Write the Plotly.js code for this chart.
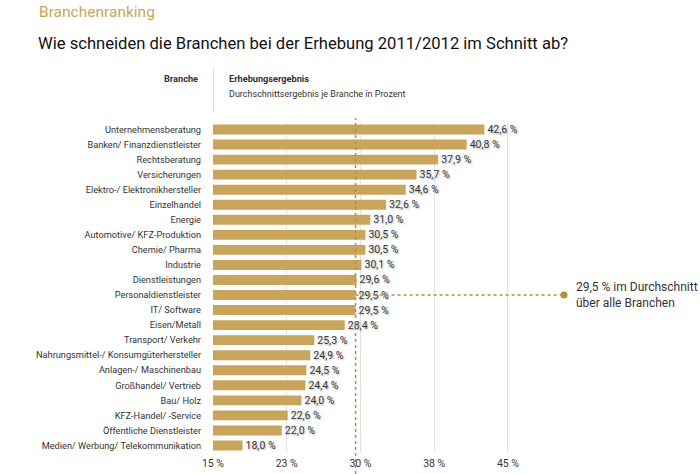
<!DOCTYPE html>
<html>
<head>
<meta charset="utf-8">
<script src="https://cdn.plot.ly/plotly-3.0.1.min.js"></script>
<style>
  html, body { margin: 0; padding: 0; background: #fff; }
  #chart { width: 700px; height: 474px; }
</style>
</head>
<body>
<div id="chart"></div>
<script>
// Branchen, sortiert nach Erhebungsergebnis (oben = höchster Wert)
const branchen = [
  "Unternehmensberatung",
  "Banken/ Finanzdienstleister",
  "Rechtsberatung",
  "Versicherungen",
  "Elektro-/ Elektronikhersteller",
  "Einzelhandel",
  "Energie",
  "Automotive/ KFZ-Produktion",
  "Chemie/ Pharma",
  "Industrie",
  "Dienstleistungen",
  "Personaldienstleister",
  "IT/ Software",
  "Eisen/Metall",
  "Transport/ Verkehr",
  "Nahrungsmittel-/ Konsumgüterhersteller",
  "Anlagen-/ Maschinenbau",
  "Großhandel/ Vertrieb",
  "Bau/ Holz",
  "KFZ-Handel/ -Service",
  "Öffentliche Dienstleister",
  "Medien/ Werbung/ Telekommunikation"
];
const ergebnis = [42.6, 40.8, 37.9, 35.7, 34.6, 32.6, 31.0, 30.5, 30.5, 30.1,
                  29.6, 29.5, 29.5, 28.4, 25.3, 24.9, 24.5, 24.4, 24.0, 22.6, 22.0, 18.0];

// Durchschnitt über alle Branchen
const durchschnitt = 29.5;
const durchschnittBranche = "Personaldienstleister";

// Achsenbeschriftung
const tickWerte = [15, 22.5, 30, 37.5, 45];
const tickTexte = ["15 %", "23 %", "30 %", "38 %", "45 %"];

const GOLD = "#c8a55b";
const GOLD_DARK = "#b48f45";
const TEXT = "#333333";
const FONT = "Roboto, sans-serif";

const bars = {
  type: "bar",
  orientation: "h",
  x: ergebnis,
  y: branchen,
  width: 0.66,
  marker: { color: GOLD, line: { width: 0 } },
  texttemplate: "%{x:.1f} %",
  textposition: "outside",
  constraintext: "none",
  cliponaxis: false,
  textfont: { family: FONT, size: 10.5, color: "#3a3a3a", shadow: "1px 1px 2px rgba(0,0,0,0.35)" },
  hoverinfo: "skip"
};

// Marker am Ende der Durchschnittslinie
const punkt = {
  type: "scatter",
  mode: "markers",
  x: [50.7],
  y: [durchschnittBranche],
  marker: { color: GOLD_DARK, size: 7 },
  cliponaxis: false,
  hoverinfo: "skip"
};

const H = 331; // Höhe der Zeichenfläche in px
const W = 487; // Breite der Zeichenfläche in px
const B = 21;  // unterer Rand in px
const py = (top) => (474 - B - top) / H;
const px = (left) => (left - 213) / W;

const layout = {
  width: 700,
  height: 474,
  margin: { l: 213, r: 0, t: 122, b: B },
  paper_bgcolor: "#ffffff",
  plot_bgcolor: "#ffffff",
  showlegend: false,
  separators: ", ",
  bargap: 0.34,
  font: { family: FONT, color: TEXT },
  xaxis: {
    range: [15, 64.53],
    tickvals: tickWerte,
    ticktext: tickTexte,
    showgrid: true,
    gridcolor: "#e3e3e3",
    gridwidth: 1,
    zeroline: false,
    showline: false,
    ticks: "",
    ticklabelstandoff: 2,
    tickfont: { family: FONT, size: 10.5, color: TEXT },
    fixedrange: true
  },
  yaxis: {
    type: "category",
    categoryorder: "array",
    categoryarray: branchen,
    autorange: "reversed",
    showgrid: false,
    zeroline: false,
    showline: false,
    ticks: "",
    ticklabelstandoff: 11,
    tickfont: { family: FONT, size: 9.2, color: TEXT },
    fixedrange: true
  },
  shapes: [
    // Trennlinie im Tabellenkopf
    { type: "line", xref: "x", yref: "paper", x0: 15, x1: 15, y0: py(112), y1: py(68),
      line: { color: "#bdbdbd", width: 1 } },
    // senkrechte Durchschnittslinie
    { type: "line", xref: "x", yref: "paper", x0: durchschnitt, x1: durchschnitt, y0: py(474), y1: py(118),
      line: { color: GOLD_DARK, width: 1.5, dash: "dot" }, layer: "above" },
    // waagerechte Linie zur Beschriftung
    { type: "line", xref: "x", yref: "y", x0: durchschnitt, x1: 50.7,
      y0: durchschnittBranche, y1: durchschnittBranche,
      line: { color: GOLD_DARK, width: 1.5, dash: "dot" }, layer: "above" }
  ],
  annotations: [
    { xref: "paper", yref: "paper", x: px(37), y: py(12), xanchor: "left", yanchor: "middle",
      text: "Branchenranking", showarrow: false,
      font: { family: FONT, size: 15.5, color: GOLD } },
    { xref: "paper", yref: "paper", x: px(36), y: py(44), xanchor: "left", yanchor: "middle",
      text: "Wie schneiden die Branchen bei der Erhebung 2011/2012 im Schnitt ab?", showarrow: false,
      font: { family: FONT, size: 16.6, color: "#111111" } },
    { xref: "paper", yref: "paper", x: px(200), y: py(78), xanchor: "right", yanchor: "middle",
      text: "<b>Branche</b>", showarrow: false,
      font: { family: FONT, size: 9.2, color: TEXT } },
    { xref: "paper", yref: "paper", x: px(227), y: py(78), xanchor: "left", yanchor: "middle",
      text: "<b>Erhebungsergebnis</b>", showarrow: false,
      font: { family: FONT, size: 9.2, color: TEXT } },
    { xref: "paper", yref: "paper", x: px(227), y: py(94), xanchor: "left", yanchor: "middle",
      text: "Durchschnittsergebnis je Branche in Prozent", showarrow: false,
      font: { family: FONT, size: 9, color: TEXT } },
    { xref: "x", yref: "y", x: 51.7, y: durchschnittBranche, xanchor: "left", yanchor: "middle",
      yshift: 0, align: "left",
      text: "29,5 % im Durchschnitt<br>über alle Branchen", showarrow: false,
      font: { family: FONT, size: 12, color: TEXT } }
  ]
};

Plotly.newPlot("chart", [bars, punkt], layout, { displayModeBar: false, staticPlot: true });
</script>
</body>
</html>
